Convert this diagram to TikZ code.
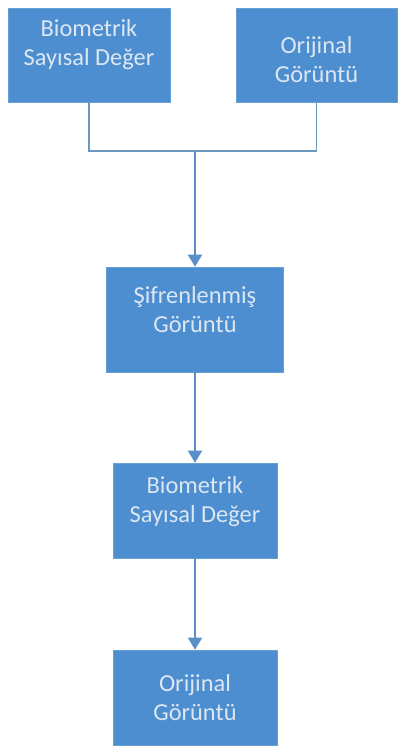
\documentclass[tikz,border=0pt]{standalone}
\usepackage{fontspec}
\setmainfont{Carlito}
\usetikzlibrary{arrows.meta}
\definecolor{boxblue}{HTML}{4D8ED0}
\definecolor{boxtext}{HTML}{DCE7F3}
\definecolor{linecol}{HTML}{6E97C0}
\definecolor{arrowcol}{HTML}{5A90C8}
\tikzset{
  box/.style={rectangle, fill=boxblue, draw=boxblue!85!white, line width=0.6pt, inner sep=0pt},
  txt/.style={align=center, text=boxtext, font=\fontsize{24.5}{29}\selectfont, inner sep=0pt},
  conn/.style={draw=linecol, line width=1.8pt},
  arr/.style={draw=arrowcol, line width=2pt, -{Triangle[width=14pt,length=12pt]}},
}
\begin{document}
\begin{tikzpicture}[x=1bp,y=1bp]
\useasboundingbox[fill=white] (0,0) rectangle (398,747);
\node[box, minimum width=162bp, minimum height=94bp] (b1) at (89,692) {};
\node[box, minimum width=161bp, minimum height=94bp] (b2) at (316.5,692) {};
\node[box, minimum width=177bp, minimum height=105bp] (b3) at (195,427.5) {};
\node[box, minimum width=164bp, minimum height=95bp] (b4) at (195,236.5) {};
\node[box, minimum width=164bp, minimum height=95bp] (b5) at (195,49.5) {};
\node[txt] (t1) at ([yshift=10bp]b1.center) {Biometrik\\Sayısal Değer};
\node[txt] (t2) at ([yshift=-5bp]b2.center) {Orijinal\\Görüntü};
\node[txt] (t3) at ([yshift=10bp]b3.center) {Şifrenlenmiş\\Görüntü};
\node[txt] (t4) at ([yshift=9bp]b4.center) {Biometrik\\Sayısal Değer};
\node[txt] (t5) at (b5.center) {Orijinal\\Görüntü};
\coordinate (j) at (195,596);
\draw[conn] (b1.south) -- (b1.south |- j) -- (b2.south |- j) -- (b2.south);
\draw[arr] (j) -- (b3.north);
\draw[arr] (b3.south) -- (b4.north);
\draw[arr] (b4.south) -- (b5.north);
\end{tikzpicture}
\end{document}
